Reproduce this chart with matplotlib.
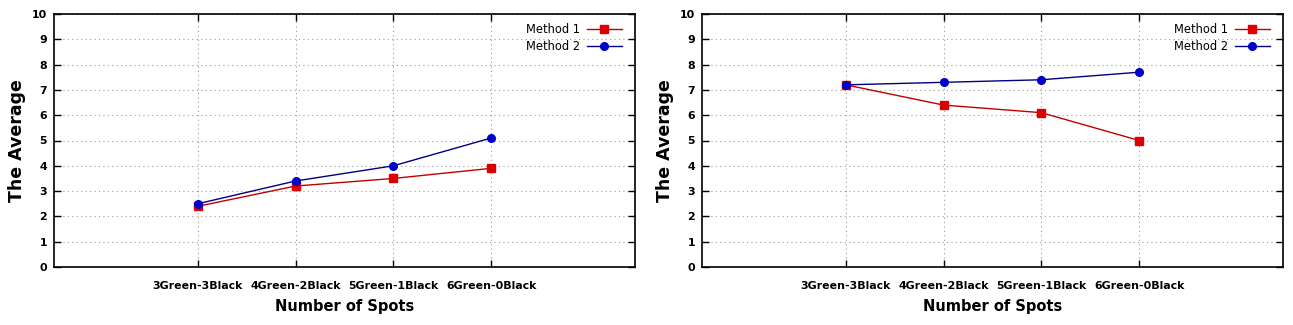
import matplotlib
matplotlib.use("Agg")
import matplotlib.pyplot as plt

categories = ["3Green-3Black", "4Green-2Black", "5Green-1Black", "6Green-0Black"]
left_method1 = [2.4, 3.2, 3.5, 3.9]
left_method2 = [2.5, 3.4, 4.0, 5.1]
right_method1 = [7.2, 6.4, 6.1, 5.0]
right_method2 = [7.2, 7.3, 7.4, 7.7]
y_ticks = list(range(0, 11))

fig = plt.figure(figsize=(12.93, 3.25), dpi=100)
W, H = 1293, 325

def make_axes(left_px, m1, m2):
    ax = fig.add_axes([left_px / W, (H - 267) / H, 581 / W, 253 / H])
    xs = list(range(len(categories)))
    ax.plot(xs, m1, color="#c00000", lw=1.0, marker="s", ms=5.5,
            mfc="#dd0000", mec="#dd0000", label="Method 1", zorder=3)
    ax.plot(xs, m2, color="#000080", lw=1.0, marker="o", ms=5.5,
            mfc="#0000cc", mec="#0000cc", label="Method 2", zorder=3)
    ax.set_xlim(-1.47, 4.47)
    ax.set_ylim(0, 10)
    ax.set_xticks(xs)
    ax.set_xticklabels(categories)
    ax.set_yticks(y_ticks)
    ax.grid(True, linestyle=(0, (1, 3)), color="#999999", lw=0.8)
    ax.tick_params(direction="in", length=5, width=1, top=True, right=True,
                   labelsize=7.9, colors="black")
    ax.tick_params(axis="y", pad=5)
    ax.tick_params(axis="x", pad=10)
    for lab in ax.get_xticklabels() + ax.get_yticklabels():
        lab.set_fontweight("bold")
    for s in ax.spines.values():
        s.set_linewidth(1.2)
    ax.set_xlabel("Number of Spots", fontsize=10.5, fontweight="bold", labelpad=6)
    ax.set_ylabel("The Average", fontsize=12.5, fontweight="bold", labelpad=4)
    ax.legend(loc="upper right", frameon=False, markerfirst=False,
              fontsize=8.3, handlelength=3.0, handletextpad=0.6,
              labelspacing=0.35, borderaxespad=0.35,
              bbox_to_anchor=(0.992, 1.0))
    return ax

make_axes(54, left_method1, left_method2)
make_axes(702, right_method1, right_method2)

fig.savefig("out.png", dpi=100)
